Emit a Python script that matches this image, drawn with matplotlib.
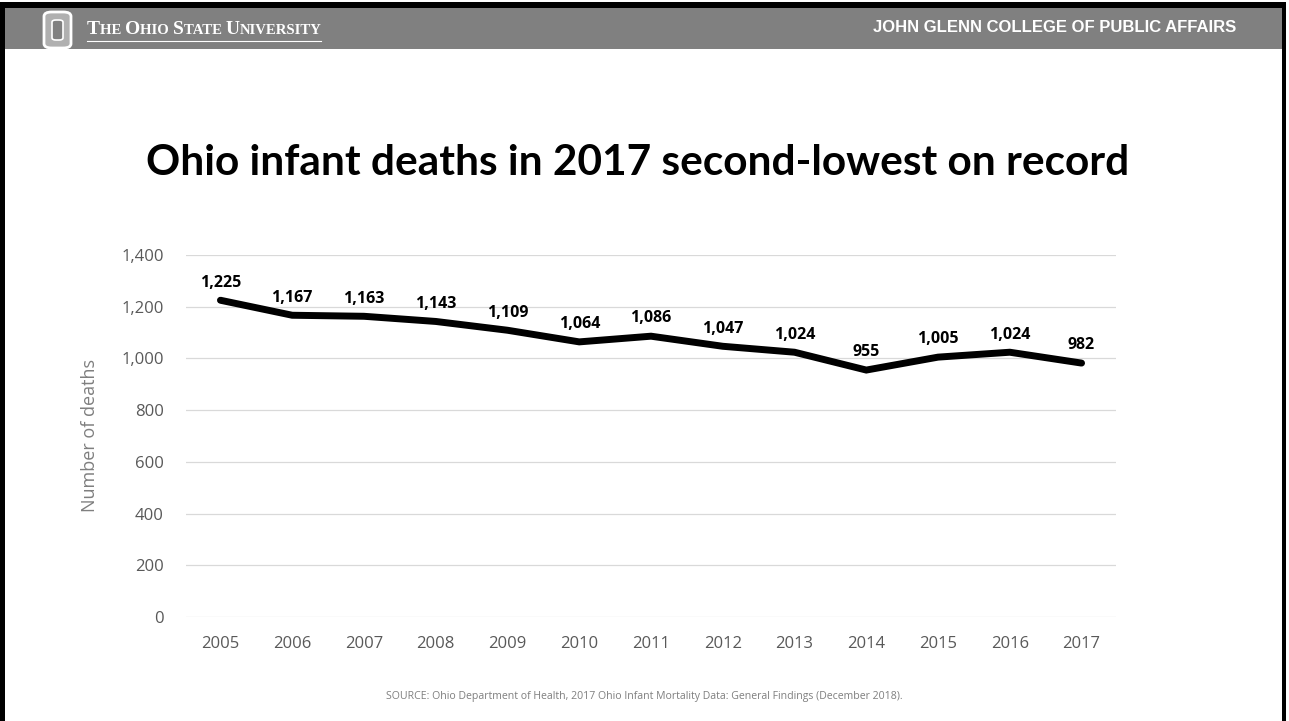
import matplotlib.pyplot as plt
from matplotlib.patches import Rectangle, FancyBboxPatch
from matplotlib.lines import Line2D

# -----------------------------
# Data
# -----------------------------
years = [2005, 2006, 2007, 2008, 2009, 2010, 2011, 2012, 2013, 2014, 2015, 2016, 2017]
deaths = [1225, 1167, 1163, 1143, 1109, 1064, 1086, 1047, 1024, 955, 1005, 1024, 982]
y_ticks = [0, 200, 400, 600, 800, 1000, 1200, 1400]

title = "Ohio infant deaths in 2017 second-lowest on record"
source = ("SOURCE: Ohio Department of Health, 2017 Ohio Infant Mortality Data: "
          "General Findings (December 2018).")

W, H = 1289, 721
fig = plt.figure(figsize=(W / 100, H / 100), dpi=100)
fig.patch.set_facecolor("white")

def px(x, y):
    # pixel coords (top-left origin) -> figure fraction
    return x / W, 1 - y / H

# -----------------------------
# Slide frame + header bar
# -----------------------------
fig.add_artist(Rectangle((0, 0), 5 / W, 1 - 2 / H, transform=fig.transFigure,
                         color="black", lw=0))
fig.add_artist(Rectangle((1282 / W, 0), 4 / W, 1 - 2 / H, transform=fig.transFigure,
                         color="black", lw=0))
fig.add_artist(Rectangle((0, 1 - 8 / H), 1286 / W, 6 / H, transform=fig.transFigure,
                         color="black", lw=0))
fig.add_artist(Rectangle((5 / W, 1 - 49 / H), 1277 / W, 41 / H,
                         transform=fig.transFigure, color="#808080", lw=0))

# block O logo
fig.add_artist(FancyBboxPatch((44 / W, 1 - 48 / H), 27 / W, 36 / H,
                              boxstyle="round,pad=0,rounding_size=0.006",
                              transform=fig.transFigure, fc="#b0b0b0",
                              ec="white", lw=2.0))
fig.add_artist(FancyBboxPatch((52 / W, 1 - 40 / H), 11 / W, 20 / H,
                              boxstyle="round,pad=0,rounding_size=0.003",
                              transform=fig.transFigure, fc="#808080",
                              ec="white", lw=1.2))

# small caps university name, laid out piece by piece
pieces = [("T", 14.0), ("HE ", 10.6), ("O", 14.0), ("HIO ", 10.6),
          ("S", 14.0), ("TATE ", 10.6), ("U", 14.0), ("NIVERSITY", 10.6)]
base_y = 1 - 34 / H
name_texts = [fig.text(0, base_y, txt, fontsize=size, color="white",
                       family="Liberation Serif", fontweight="bold",
                       va="baseline", ha="left")
              for txt, size in pieces]
fig.canvas.draw()
renderer = fig.canvas.get_renderer()
cur = 87
for t in name_texts:
    t.set_position((cur / W, base_y))
    cur += t.get_window_extent(renderer).width
fig.add_artist(Line2D([87 / W, cur / W], [1 - 41 / H, 1 - 41 / H],
                      transform=fig.transFigure, color="white", lw=0.8))

fig.text(*px(1236, 28), "JOHN GLENN COLLEGE OF PUBLIC AFFAIRS", color="white",
         fontsize=12, fontweight="bold", family="Liberation Sans",
         ha="right", va="center")

# -----------------------------
# Title and source
# -----------------------------
fig.text(*px(638, 163), title, fontsize=30.5, fontweight="bold", family="Lato",
         ha="center", va="center", color="black")
fig.text(*px(644, 697), source, fontsize=7.6, family="Open Sans",
         ha="center", va="center", color="#7f7f7f")

# -----------------------------
# Chart
# -----------------------------
ax = fig.add_axes([186 / W, 104 / H, 930 / W, 362 / H])
ax.plot(years, deaths, color="black", lw=5.0, solid_capstyle="round",
        solid_joinstyle="miter", zorder=3)
for x, y in zip(years, deaths):
    ax.annotate(f"{y:,}", (x, y), xytext=(0, 7), textcoords="offset points",
                ha="center", va="bottom", fontsize=11.5, fontweight="bold",
                family="Open Sans", color="black")

ax.set_xlim(years[0] - 0.48, years[-1] + 0.48)
ax.set_ylim(0, 1400)
ax.set_yticks(y_ticks)
ax.set_yticklabels([f"{v:,}" for v in y_ticks])
ax.set_xticks(years)
ax.grid(axis="y", color="#d9d9d9", lw=0.9)
ax.set_axisbelow(True)
for s in ax.spines.values():
    s.set_visible(False)
ax.tick_params(length=0, labelsize=12, labelcolor="#595959", pad=14)
ax.tick_params(axis="y", pad=16)
for lab in ax.get_xticklabels() + ax.get_yticklabels():
    lab.set_family("Open Sans")

fig.text(*px(90, 436), "Number of deaths", rotation=90, fontsize=13,
         family="Open Sans", color="#7f7f7f", ha="center", va="center")

fig.savefig("out.png", dpi=100)
